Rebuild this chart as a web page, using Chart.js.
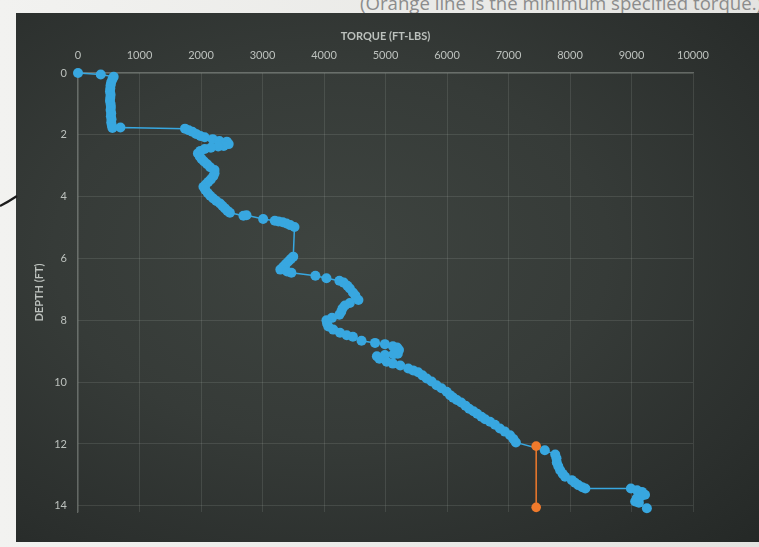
<!DOCTYPE html>
<html>
<head>
<meta charset="utf-8">
<script src="https://cdn.jsdelivr.net/npm/chart.js@4/dist/chart.umd.min.js"></script>
<style>
  html, body { margin: 0; padding: 0; }
  body { width: 759px; height: 547px; overflow: hidden; position: relative;
         background: linear-gradient(90deg, #f2f2f0 0%, #e4e4e1 100%); font-family: 'Open Sans', sans-serif; }
  #note { position: absolute; right: -3px; top: -10px; font-size: 18.6px; color: #8c8c8c; white-space: nowrap; }
  #panel { position: absolute; left: 16px; top: 13px; width: 750px; height: 529px;
           background: radial-gradient(ellipse at 42% 45%, #3e4440 0%, #363b38 45%, #2b2f2d 80%, #242826 100%); }
  #stroke { position: absolute; left: 0; top: 170px; }
  #chart { position: absolute; left: 0; top: 0; }
</style>
</head>
<body>
<div id="note">(Orange line is the minimum specified torque.)</div>
<div id="panel"></div>
<svg id="stroke" width="20" height="50"><path d="M0 36 C6 33, 11 30, 17 26" stroke="#1c1c1c" stroke-width="2.2" fill="none"/></svg>
<canvas id="chart" width="759" height="547"></canvas>
<script>
// Torque readings (ft-lbs) logged against depth (ft)
const torque = [
  0, 370, 580, 560, 540, 530, 525, 520, 530, 525, 520, 530, 535, 530, 540, 535, 545, 540, 550, 560,
  690, 1740, 1800, 1860, 1920, 1990, 2060, 2190, 2300, 2420, 2450, 2370, 2280, 2160, 2060, 1990, 1950, 1980, 2010, 2050,
  2100, 2150, 2220, 2220, 2200, 2160, 2120, 2080, 2040, 2070, 2110, 2150, 2200, 2250, 2310, 2350, 2390, 2430, 2470, 2690,
  2740, 3010, 3200, 3260, 3330, 3390, 3450, 3520, 3500, 3460, 3420, 3380, 3340, 3290, 3400, 3470, 3860, 4040, 4250, 4320,
  4380, 4420, 4470, 4510, 4560, 4420, 4340, 4300, 4280, 4250, 4130, 4040, 4050, 4070, 4150, 4260, 4370, 4470, 4610, 4830,
  4990, 5120, 5190, 5220, 5160, 5200, 5130, 4990, 4860, 4900, 5020, 5120, 5240, 5370, 5450, 5530, 5600, 5670, 5750, 5830,
  5910, 5995, 6050, 6100, 6160, 6230, 6300, 6360, 6430, 6490, 6560, 6620, 6700, 6780, 6860, 6940, 7025, 7080, 7120, 7590,
  7760, 7780, 7785, 7810, 7840, 7880, 7920, 8030, 8080, 8135, 8200, 8250, 8990, 9090, 9170, 9220, 9150, 9085, 9060, 9120,
  9250
];
const depth = [
  0.00, 0.05, 0.12, 0.20, 0.30, 0.40, 0.50, 0.60, 0.70, 0.80, 0.90, 1.00, 1.10, 1.20, 1.30, 1.40, 1.50, 1.60, 1.70, 1.78,
  1.76, 1.80, 1.85, 1.90, 1.97, 2.04, 2.08, 2.14, 2.20, 2.22, 2.30, 2.36, 2.38, 2.42, 2.46, 2.52, 2.60, 2.70, 2.78, 2.86,
  2.95, 3.05, 3.14, 3.24, 3.34, 3.44, 3.52, 3.60, 3.68, 3.78, 3.88, 3.97, 4.06, 4.14, 4.22, 4.30, 4.38, 4.46, 4.52, 4.62,
  4.60, 4.72, 4.78, 4.80, 4.83, 4.87, 4.92, 4.98, 5.94, 6.02, 6.10, 6.18, 6.26, 6.36, 6.42, 6.46, 6.56, 6.64, 6.72, 6.78,
  6.88, 6.97, 7.10, 7.20, 7.34, 7.44, 7.52, 7.62, 7.72, 7.82, 7.92, 8.00, 8.10, 8.20, 8.30, 8.40, 8.48, 8.53, 8.66, 8.73,
  8.77, 8.84, 8.88, 8.96, 9.02, 9.08, 9.10, 9.12, 9.16, 9.24, 9.34, 9.40, 9.46, 9.56, 9.62, 9.68, 9.78, 9.88, 9.98, 10.10,
  10.20, 10.31, 10.42, 10.50, 10.58, 10.66, 10.76, 10.86, 10.94, 11.02, 11.12, 11.20, 11.28, 11.38, 11.50, 11.60, 11.72, 11.84, 11.95, 12.20,
  12.34, 12.46, 12.60, 12.72, 12.85, 12.96, 13.06, 13.17, 13.25, 13.33, 13.40, 13.44, 13.44, 13.50, 13.55, 13.64, 13.70, 13.76, 13.86, 13.90,
  14.08
];

// Minimum specified torque, drawn as a vertical segment
const minTorque = [7450, 7450];
const minDepth = [12.07, 14.05];

const torqueTicks = [0, 1000, 2000, 3000, 4000, 5000, 6000, 7000, 8000, 9000, 10000];
const depthTicks = [0, 2, 4, 6, 8, 10, 12, 14];

const toPoints = (xs, ys) => xs.map((x, i) => ({ x: x, y: ys[i] }));

const BLUE = '#38a7e0';
const ORANGE = '#f07a2c';
const tickColor = '#bcc1bd';
const gridColor = 'rgba(205,215,208,0.13)';
const borderColor = 'rgba(215,222,216,0.32)';

new Chart(document.getElementById('chart'), {
  type: 'scatter',
  data: {
    datasets: [
      {
        label: 'Minimum torque',
        data: toPoints(minTorque, minDepth),
        showLine: true,
        clip: false,
        borderColor: ORANGE,
        backgroundColor: ORANGE,
        borderWidth: 1.5,
        pointRadius: 4.8,
        pointBorderWidth: 0,
        order: 0
      },
      {
        label: 'Torque',
        data: toPoints(torque, depth),
        showLine: true,
        clip: false,
        borderColor: BLUE,
        backgroundColor: BLUE,
        borderWidth: 1.5,
        pointRadius: 5,
        pointBorderWidth: 0,
        order: 1
      }
    ]
  },
  options: {
    responsive: false,
    animation: false,
    devicePixelRatio: 1,
    layout: { padding: { left: 0, top: 0, right: 66, bottom: 35 } },
    plugins: { legend: { display: false }, tooltip: { enabled: false } },
    scales: {
      x: {
        type: 'linear',
        position: 'top',
        min: 0,
        max: 10000,
        afterBuildTicks: (s) => { s.ticks = torqueTicks.map(v => ({ value: v })); },
        afterFit: (s) => { s.height = 73; },
        grid: { color: gridColor, drawTicks: false, lineWidth: 1 },
        border: { color: borderColor, width: 1.2 },
        ticks: { color: tickColor, padding: 11, font: { family: 'Lato', size: 11 }, maxRotation: 0,
                 callback: (v) => String(v) },
        title: {
          display: true,
          text: 'TORQUE (FT-LBS)',
          color: tickColor,
          font: { family: 'Lato', size: 11, weight: 'bold' },
          padding: { top: 30, bottom: 0 }
        }
      },
      y: {
        type: 'linear',
        position: 'left',
        reverse: true,
        min: 0,
        max: 14.2,
        afterBuildTicks: (s) => { s.ticks = depthTicks.map(v => ({ value: v })); },
        afterFit: (s) => { s.width = 78; },
        grid: { color: gridColor, drawTicks: false, lineWidth: 1 },
        border: { color: borderColor, width: 1.2 },
        ticks: { color: tickColor, padding: 11, font: { family: 'Lato', size: 11 },
                 callback: (v) => String(v) },
        title: {
          display: true,
          text: 'DEPTH (FT)',
          color: tickColor,
          font: { family: 'Lato', size: 11, weight: 'bold' },
          padding: { top: 33, bottom: 0 }
        }
      }
    }
  }
});
</script>
</body>
</html>
